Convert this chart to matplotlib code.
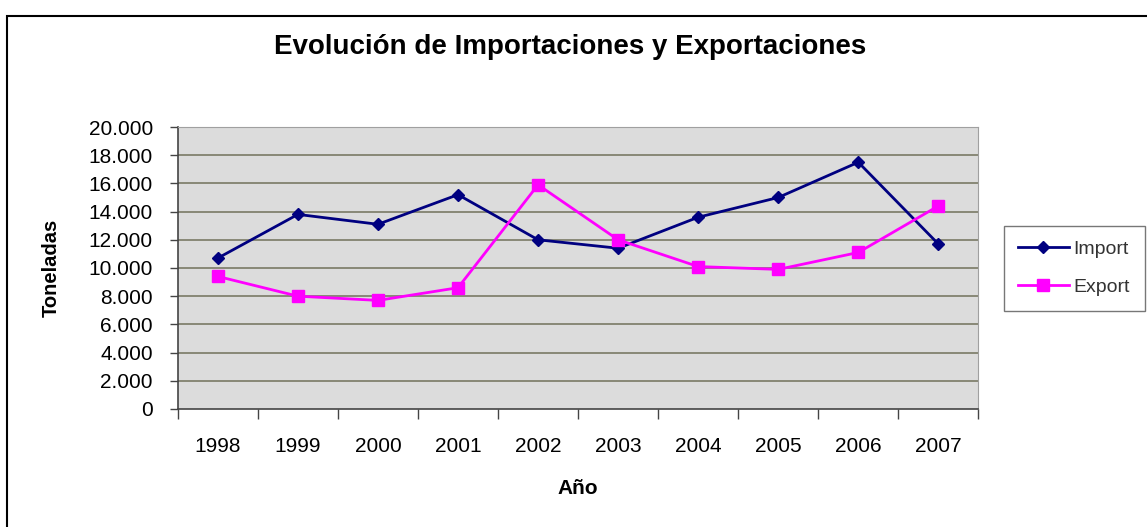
import numpy as np
import matplotlib
matplotlib.use("Agg")
import matplotlib.pyplot as plt
from matplotlib.patches import Rectangle
from matplotlib.ticker import FuncFormatter, MultipleLocator

plt.rcParams['font.family'] = ['Liberation Sans', 'DejaVu Sans']

years = ['1998', '1999', '2000', '2001', '2002', '2003', '2004', '2005', '2006', '2007']
imports = [10700, 13800, 13100, 15200, 12000, 11400, 13600, 15000, 17500, 11700]
exports = [9400, 8000, 7700, 8600, 15900, 12000, 10100, 9900, 11100, 14400]

fig = plt.figure(figsize=(11.47, 5.27), dpi=100)
ax = fig.add_axes([0.155, 0.224, 0.698, 0.535])

x = np.arange(len(years))
ax.set_facecolor('#dcdcdc')
for yv in range(2000, 20001, 2000):
    ax.axhline(yv, color='#7a7a66', lw=1.2, zorder=1)

ax.plot(x, imports, color='#000080', lw=2, marker='D', ms=6.5, label='Import', zorder=3)
ax.plot(x, exports, color='#ff00ff', lw=2, marker='s', ms=9, label='Export', zorder=3)

ax.set_xlim(-0.5, len(years) - 0.5)
ax.set_ylim(0, 20000)
ax.set_xticks(x)
ax.set_xticklabels(years)
ax.set_xticks(np.arange(-0.5, len(years), 1), minor=True)
ax.tick_params(axis='x', which='major', length=0, pad=20, labelsize=15)
ax.tick_params(axis='x', which='minor', length=7, width=1, color='#444444')
ax.yaxis.set_major_locator(MultipleLocator(2000))
ax.yaxis.set_major_formatter(FuncFormatter(lambda v, p: f"{int(v):,}".replace(',', '.')))
ax.tick_params(axis='y', length=6, width=1, color='#444444', labelsize=15, pad=12)

for s in ['top', 'right']:
    ax.spines[s].set_color('#a0a0a0')
for s in ['left', 'bottom']:
    ax.spines[s].set_color('#444444')
    ax.spines[s].set_linewidth(1.2)

ax.set_xlabel('Año', fontsize=15, fontweight='bold', labelpad=17)
ax.set_ylabel('Toneladas', fontsize=14.5, fontweight='bold', labelpad=20)
fig.text(0.497, 0.91, 'Evolución de Importaciones y Exportaciones', fontsize=20,
         fontweight='bold', ha='center', va='center')

leg = fig.legend(loc='upper left', bbox_to_anchor=(0.8665, 0.59), fontsize=14,
                 frameon=True, fancybox=False, edgecolor='#555555', handlelength=2.6,
                 borderpad=0.75, labelspacing=1.05, handletextpad=0.25)
leg.get_frame().set_linewidth(1)
for t in leg.get_texts():
    t.set_color('#333333')

fig.patches.append(Rectangle((7 / 1147, -0.05), 1.2, 1 - 16 / 527 + 0.05,
                             transform=fig.transFigure, fill=False, edgecolor='black',
                             lw=1.5, figure=fig))

fig.savefig('out.png', dpi=100)
